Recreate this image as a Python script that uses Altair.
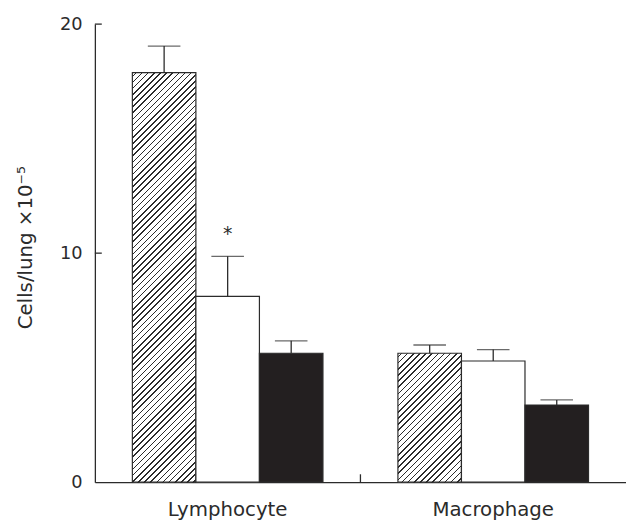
import altair as alt
import pandas as pd
import numpy as np

# ---------------- data ----------------
cell_types = ["Lymphocyte", "Macrophage"]
groups = ["Group 1", "Group 2", "Group 3"]          # hatched, open, solid
lymphocyte_means = [17.88, 8.11, 5.63]
lymphocyte_upper = [19.04, 9.86, 6.17]
macrophage_means = [5.63, 5.29, 3.37]
macrophage_upper = [5.99, 5.79, 3.59]
lymphocyte_notes = ["", "*", ""]
macrophage_notes = ["", "", ""]
y_tick_values = [0, 10, 20]
y_title = "Cells/lung ×10⁻⁵"

rows = []
for cell, means, upper, notes in [
    ("Lymphocyte", lymphocyte_means, lymphocyte_upper, lymphocyte_notes),
    ("Macrophage", macrophage_means, macrophage_upper, macrophage_notes),
]:
    for g, m, u, n in zip(groups, means, upper, notes):
        rows.append({"cell": cell, "group": g, "mean": m, "upper": u, "note": n})
df = pd.DataFrame(rows)
ticks_df = pd.DataFrame({"value": [v for v in y_tick_values if v > 0]})
divider_df = pd.DataFrame({"cell": [cell_types[0]]})

# ---------------- geometry / style ----------------
W, H = 538, 464
YMAX = 20
PPU = H / YMAX
PAD_OUT = 0.59
STEP = W / len(cell_types)
SUB = STEP / (len(groups) + 2 * PAD_OUT)
INK = "#2b2b2b"
FONT = "DejaVu Sans"


def hatch_gradient(w, h, period=4.4, thick=1.1):
    """Diagonal '/' hatching built from a hard-stop linear gradient."""
    L = (w + h) / np.sqrt(2)
    s = (1 / h + 1 / w) / (1 / h ** 2 + 1 / w ** 2)
    stops = [{"offset": 0, "color": "white"}]
    t = thick / L
    a = (period / 2) / L
    while a + t < 1:
        stops += [
            {"offset": float(a), "color": "white"},
            {"offset": float(a), "color": INK},
            {"offset": float(a + t), "color": INK},
            {"offset": float(a + t), "color": "white"},
        ]
        a += period / L
    stops.append({"offset": 1, "color": "white"})
    return alt.Gradient(gradient="linear", x1=0, y1=0, x2=float(s / h), y2=float(s / w), stops=stops)


x_enc = alt.X(
    "cell:N",
    scale=alt.Scale(domain=cell_types, paddingInner=0, paddingOuter=0),
    axis=alt.Axis(
        title=None, ticks=False, tickSize=0, labelAngle=0, labelPadding=18,
        labelFont=FONT, labelFontSize=20, labelColor=INK,
        domainColor=INK, domainWidth=1.3,
    ),
)
xoff_enc = alt.XOffset(
    "group:N", scale=alt.Scale(domain=groups, paddingInner=0, paddingOuter=PAD_OUT)
)
y_scale = alt.Scale(domain=[0, YMAX], nice=False, zero=True)
y_enc = alt.Y(
    "mean:Q",
    scale=y_scale,
    axis=alt.Axis(
        values=y_tick_values, ticks=False, tickSize=0, grid=False, labelPadding=13,
        labelFont=FONT, labelFontSize=18, labelColor=INK,
        domainColor=INK, domainWidth=1.3,
        title=y_title, titleFont=FONT, titleFontSize=20, titleFontWeight="normal",
        titleColor=INK, titleX=-70, titleY=226, titleAngle=-90,
        titleAlign="center", titleBaseline="middle",
    ),
)

base = alt.Chart(df).encode(x=x_enc, xOffset=xoff_enc)

layers = []
for cell in cell_types:
    m = float(df[(df.cell == cell) & (df.group == groups[0])]["mean"].iloc[0])
    grad = hatch_gradient(SUB, m * PPU)
    layers.append(
        base.transform_filter(
            (alt.datum.cell == cell) & (alt.datum.group == groups[0])
        ).mark_bar(fill=grad, stroke=INK, strokeWidth=1.2).encode(y=y_enc)
    )

layers.append(
    base.transform_filter(alt.datum.group == groups[1])
    .mark_bar(fill="white", stroke=INK, strokeWidth=1.2)
    .encode(y=y_enc)
)
layers.append(
    base.transform_filter(alt.datum.group == groups[2])
    .mark_bar(fill="#231f20", stroke=INK, strokeWidth=1.2)
    .encode(y=y_enc)
)

err_rule = base.mark_rule(color=INK, strokeWidth=1.3).encode(
    y=alt.Y("mean:Q", scale=y_scale), y2="upper:Q"
)
err_cap = base.mark_tick(color=INK, thickness=1.3, size=33).encode(
    y=alt.Y("upper:Q", scale=y_scale)
)
notes = base.transform_filter(alt.datum.note != "").mark_text(
    font=FONT, fontSize=19, color=INK, baseline="alphabetic", dy=-17
).encode(y=alt.Y("upper:Q", scale=y_scale), text="note:N")

y_inner_ticks = alt.Chart(ticks_df).mark_rule(color=INK, strokeWidth=1.3).encode(
    y=alt.Y("value:Q", scale=y_scale), x=alt.value(0), x2=alt.value(7)
)
divider = alt.Chart(divider_df).mark_rule(color=INK, strokeWidth=1.3).encode(
    x=alt.X("cell:N", bandPosition=1), y=alt.value(H), y2=alt.value(H - 8)
)

chart = alt.layer(*layers, err_rule, err_cap, notes, y_inner_ticks, divider).properties(
    width=W,
    height=H,
    autosize=alt.AutoSizeParams(type="none"),
    padding={"left": 88, "top": 13, "right": 0, "bottom": 36},
    background="white",
).configure_view(stroke=None)

chart.save("out.html", embed_options={"renderer": "svg", "actions": False})
